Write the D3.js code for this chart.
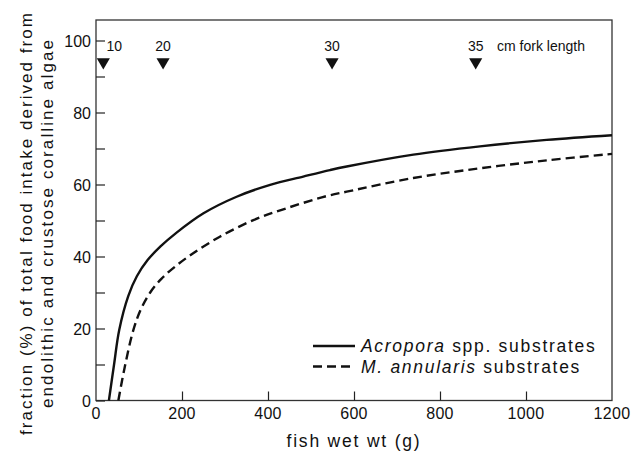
<!DOCTYPE html>
<html>
<head>
<meta charset="utf-8">
<script src="https://cdn.jsdelivr.net/npm/d3@7"></script>
<style>
  body { margin: 0; background: #fff; }
  text { font-family: "Liberation Sans", Arial, Helvetica, sans-serif; fill: #111; }
</style>
</head>
<body>
<script>
// curve readings: [fish wet wt (g), fraction (%)]
const acropora = [[30,0],[42,10],[54,19.6],[75,29],[95,34.5],[120,39],[150,42.8],[186,46.5],[250,52],
  [327,56.6],[405,59.9],[482,62.2],[544,64],[583,65],[738,68.3],[893,70.6],[1048,72.4],[1200,73.7]];
const annularis = [[52,0],[67,9.4],[87,19.6],[105,25.5],[126,30],[152,33.8],[184,37.2],[226,40.9],
  [288,45.5],[366,50.1],[443,53.4],[537,56.8],[583,58],[738,61.8],[893,64.5],[1048,66.7],[1200,68.5]];

// fork length markers
const forkLabels = ["10", "20", "30", "35"];
const forkWeights = [17, 156, 549, 883];

const xTicks = [0, 200, 400, 600, 800, 1000, 1200];
const yTicks = [0, 20, 40, 60, 80, 100];
const yMinor = [10, 30, 50, 70, 90];

const legendNames = [["Acropora", " spp. substrates"], ["M. annularis", " substrates"]];
const yTitleLines = ["fraction (%) of total food intake derived from", "endolithic and crustose coralline algae"];

const width = 631, height = 453;
const plotLeft = 96, plotRight = 612, plotTop = 20, plotBottom = 400.5;

const x = d3.scaleLinear().domain([0, 1200]).range([plotLeft, plotRight]);
const y = d3.scaleLinear().domain([0, 100]).range([plotBottom, 40.5]);

const svg = d3.select("body").append("svg")
  .attr("width", width)
  .attr("height", height);

// frame
svg.append("rect")
  .attr("x", plotLeft).attr("y", plotTop)
  .attr("width", plotRight - plotLeft).attr("height", plotBottom - plotTop)
  .attr("fill", "none").attr("stroke", "#333").attr("stroke-width", 1.3);

// y axis, ticks pointing inward
const yAxis = svg.append("g")
  .attr("transform", `translate(${plotLeft},0)`)
  .call(d3.axisRight(y).tickValues(yTicks.concat(yMinor)).tickSize(9).tickFormat(""));
yAxis.select(".domain").remove();
yAxis.selectAll("line").attr("stroke", "#222").attr("stroke-width", 1.2);

svg.selectAll(".ylab")
  .data(yTicks)
  .enter().append("text")
  .attr("class", "ylab")
  .attr("x", plotLeft - 5)
  .attr("y", d => y(d) + 6)
  .attr("text-anchor", "end")
  .style("font-size", "16px")
  .text(d => d);

// x axis
const xAxis = svg.append("g")
  .attr("transform", `translate(0,${plotBottom})`)
  .call(d3.axisTop(x).tickValues(xTicks.slice(1, -1)).tickSize(9).tickFormat(""));
xAxis.select(".domain").remove();
xAxis.selectAll("line").attr("stroke", "#222").attr("stroke-width", 1.2);

svg.selectAll(".xlab")
  .data(xTicks)
  .enter().append("text")
  .attr("class", "xlab")
  .attr("x", d => x(d))
  .attr("y", plotBottom + 18)
  .attr("text-anchor", "middle")
  .style("font-size", "16px")
  .style("letter-spacing", "0.3px")
  .text(d => d);

svg.append("text")
  .attr("x", (plotLeft + plotRight) / 2)
  .attr("y", 447)
  .attr("text-anchor", "middle")
  .style("font-size", "17.5px")
  .style("letter-spacing", "1.8px")
  .text("fish wet wt (g)");

// y label, two lines stretched to the width they take in the original
const titleLen = [422, 368];
svg.selectAll(".ytitle")
  .data(yTitleLines)
  .enter().append("text")
  .attr("class", "ytitle")
  .attr("transform", (d, i) => `translate(${32 + i * 21},224) rotate(-90)`)
  .attr("x", (d, i) => -titleLen[i] / 2)
  .attr("textLength", (d, i) => titleLen[i])
  .attr("lengthAdjust", "spacing")
  .style("font-size", "17px")
  .text(d => d);

// curves
const line = d3.line()
  .x(d => x(d[0]))
  .y(d => y(d[1]))
  .curve(d3.curveCatmullRom.alpha(0.5));

svg.append("path")
  .datum(acropora)
  .attr("d", line)
  .attr("fill", "none")
  .attr("stroke", "#111")
  .attr("stroke-width", 2.4);

svg.append("path")
  .datum(annularis)
  .attr("d", line)
  .attr("fill", "none")
  .attr("stroke", "#111")
  .attr("stroke-width", 2.4)
  .attr("stroke-dasharray", "9,5");

// fork length triangles
const tri = d3.symbol().type(d3.symbolTriangle).size(75);
svg.selectAll(".fork")
  .data(forkWeights)
  .enter().append("path")
  .attr("class", "fork")
  .attr("d", tri)
  .attr("transform", d => `translate(${x(d)},62) rotate(180)`)
  .attr("fill", "#111");

svg.selectAll(".forklab")
  .data(forkLabels)
  .enter().append("text")
  .attr("class", "forklab")
  .attr("x", (d, i) => x(forkWeights[i]) + (i === 0 ? 11 : 0))
  .attr("y", 51)
  .attr("text-anchor", "middle")
  .style("font-size", "14px")
  .text(d => d);

svg.append("text")
  .attr("x", 497)
  .attr("y", 51)
  .style("font-size", "14px")
  .text("cm fork length");

// legend
const legend = svg.selectAll(".legend")
  .data(legendNames)
  .enter().append("g")
  .attr("class", "legend")
  .attr("transform", (d, i) => `translate(313,${346 + i * 20.5})`);

legend.append("line")
  .attr("x1", 0).attr("x2", 42)
  .attr("stroke", "#111")
  .attr("stroke-width", 2.4)
  .attr("stroke-dasharray", (d, i) => i ? "9,5" : null);

const lt = legend.append("text")
  .attr("x", 48)
  .attr("y", 6)
  .style("font-size", "17.5px")
  .style("letter-spacing", "1.7px");
lt.append("tspan").style("font-style", "italic").text(d => d[0]);
lt.append("tspan").text(d => d[1]);
</script>
</body>
</html>
